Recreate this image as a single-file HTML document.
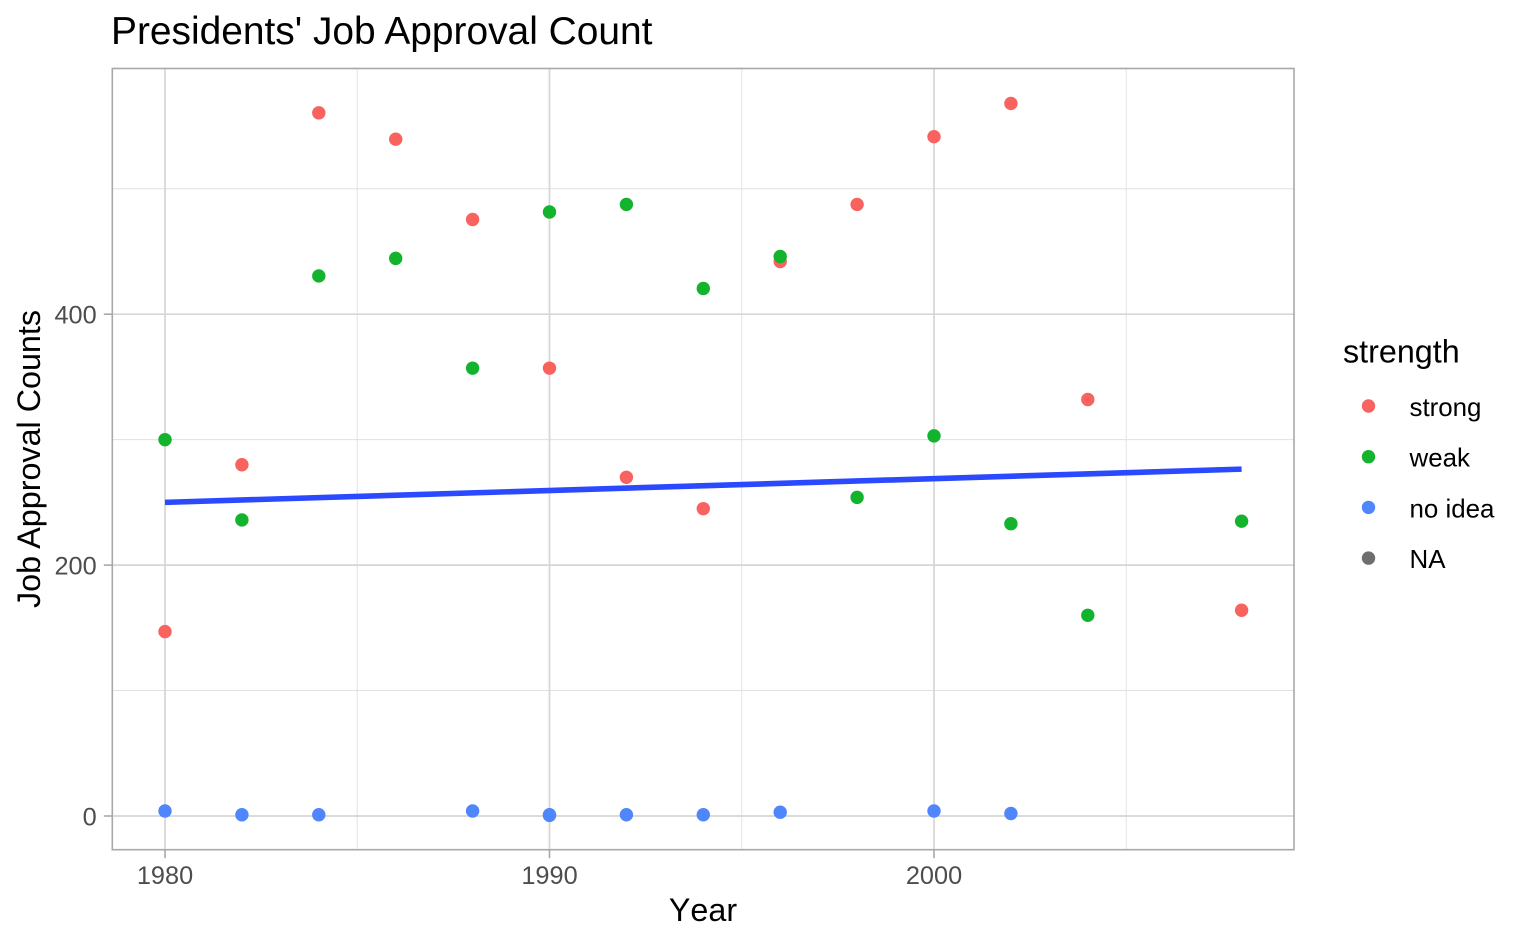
<!DOCTYPE html>
<html>
<head>
<meta charset="utf-8">
<style>
html,body{margin:0;padding:0;background:#fff;}
svg{display:block;font-family:"Liberation Sans",Arial,sans-serif;}
</style>
</head>
<body>
<svg id="chart" width="1526" height="943" viewBox="0 0 1526 943" xmlns="http://www.w3.org/2000/svg">
  <rect width="1526" height="943" fill="#fff"/>
  <text x="111" y="44" font-size="38.9" fill="#000">Presidents' Job Approval Count</text>
  <text x="703" y="921" font-size="32.3" text-anchor="middle" fill="#000" style="font-kerning:none">Year</text>
  <text transform="translate(40 459) rotate(-90)" font-size="32.3" text-anchor="middle" fill="#000">Job Approval Counts</text>
  <g id="grid"></g>
  <g id="ticks"></g>
  <g id="trend"></g>
  <g id="points"></g>
  <rect x="112.3" y="68.5" width="1181.7" height="781.2" fill="none" stroke="#a8a8a8" stroke-width="1.6"/>
  <g id="legend">
    <text x="1343" y="362.5" font-size="32.3" fill="#000">strength</text>
  </g>
</svg>
<script>
const years = [1980, 1982, 1984, 1986, 1988, 1990, 1992, 1994, 1996, 1998, 2000, 2002, 2004, 2008];
const strongValues = [147, 280, 560.5, 539.5, 475.5, 357, 270, 245, 442, 487.5, 541.5, 568, 332, 164];
const weakValues = [300, 236, 430.5, 444.5, 357, 481.5, 487.5, 420.5, 446, 254, 303, 233, 160, 235];
const noIdeaYears = [1980, 1982, 1984, 1988, 1990, 1990, 1992, 1994, 1996, 2000, 2002];
const noIdeaValues = [4, 1, 1, 4, 1, 0.5, 1, 1, 3, 4, 2];
const trendYears = [1980, 2008];
const trendValues = [250, 276.5];
const xMajorTicks = [1980, 1990, 2000];
const xMinorTicks = [1985, 1995, 2005];
const yMajorTicks = [0, 200, 400];
const yMinorTicks = [100, 300, 500];
const legendLabels = ['strong', 'weak', 'no idea', 'NA'];

const SVGNS = 'http://www.w3.org/2000/svg';
const COLORS = {strong: '#F8635F', weak: '#14B32E', noIdea: '#4F86FC', na: '#6E6E6E'};
const PANEL = {left: 112.3, right: 1294, top: 68.5, bottom: 849.7};

function xScale(year) { return 165 + (year - 1980) * 38.45; }
function yScale(value) { return 816 - value * 1.2545; }

function make(tag, parentId, attrs) {
  const el = document.createElementNS(SVGNS, tag);
  Object.keys(attrs).forEach(function (k) { el.setAttribute(k, attrs[k]); });
  document.getElementById(parentId).appendChild(el);
  return el;
}

xMinorTicks.forEach(function (t) {
  const el = make('line', 'grid', {x1: xScale(t), x2: xScale(t), y1: PANEL.top, y2: PANEL.bottom, stroke: '#e3e3e3', 'stroke-width': 1});
  
  
});
yMinorTicks.forEach(function (t) {
  const el = make('line', 'grid', {x1: PANEL.left, x2: PANEL.right, y1: yScale(t), y2: yScale(t), stroke: '#e0e0e0', 'stroke-width': 1});
  
  
});
xMajorTicks.forEach(function (t) {
  const grid = make('line', 'grid', {x1: xScale(t), x2: xScale(t), y1: PANEL.top, y2: PANEL.bottom, stroke: '#d6d6d6', 'stroke-width': 1.7});
  
  
  const tick = make('line', 'ticks', {x1: xScale(t), x2: xScale(t), y1: PANEL.bottom, y2: PANEL.bottom + 8.5, stroke: '#a8a8a8', 'stroke-width': 1.6});
  
  
  const label = make('text', 'ticks', {x: xScale(t), y: 884, 'font-size': 25.3, 'text-anchor': 'middle', fill: '#4d4d4d'});
  label.textContent = t;
  
  
});
yMajorTicks.forEach(function (t) {
  const grid = make('line', 'grid', {x1: PANEL.left, x2: PANEL.right, y1: yScale(t), y2: yScale(t), stroke: '#d6d6d6', 'stroke-width': 1.7});
  
  
  const tick = make('line', 'ticks', {x1: PANEL.left - 8.5, x2: PANEL.left, y1: yScale(t), y2: yScale(t), stroke: '#a8a8a8', 'stroke-width': 1.6});
  
  
  const label = make('text', 'ticks', {x: 96.7, y: yScale(t) + 9.3, 'font-size': 25.3, 'text-anchor': 'end', fill: '#4d4d4d'});
  label.textContent = t;
  
  
});

const trendLine = make('line', 'trend', {
  x1: xScale(trendYears[0]), y1: yScale(trendValues[0]),
  x2: xScale(trendYears[1]), y2: yScale(trendValues[1]),
  stroke: '#2B49FF', 'stroke-width': 5.6
});



years.forEach(function (yr, i) {
  const el = make('circle', 'points', {cx: xScale(yr), cy: yScale(strongValues[i]), r: 6.7, fill: COLORS.strong});
  
  
});
years.forEach(function (yr, i) {
  const el = make('circle', 'points', {cx: xScale(yr), cy: yScale(weakValues[i]), r: 6.7, fill: COLORS.weak});
  
  
});
noIdeaYears.forEach(function (yr, i) {
  const el = make('circle', 'points', {cx: xScale(yr), cy: yScale(noIdeaValues[i]), r: 6.7, fill: COLORS.noIdea});
  
  
});

const legendColors = [COLORS.strong, COLORS.weak, COLORS.noIdea, COLORS.na];
legendLabels.forEach(function (name, i) {
  const cy = 406 + i * 50.7;
  const dot = make('circle', 'legend', {cx: 1368.5, cy: cy, r: 6.7, fill: legendColors[i]});
  
  
  const label = make('text', 'legend', {x: 1409.5, y: cy + 10, 'font-size': 25.9, fill: '#000'});
  label.textContent = name;
  
  
});
</script>
</body>
</html>
